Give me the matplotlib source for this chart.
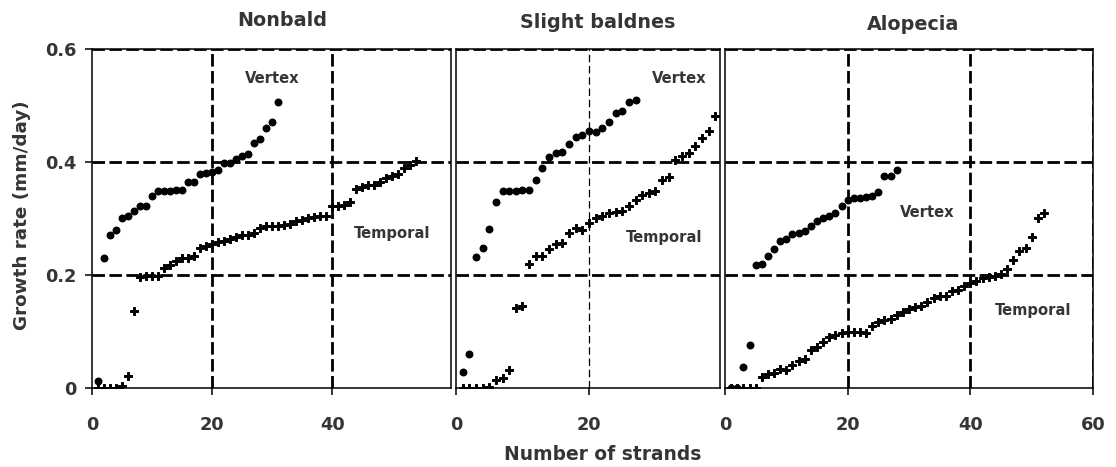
import matplotlib.pyplot as plt

# strand index (sorted) and growth rate in mm/day
nonbald_vertex = [0.013, 0.230, 0.271, 0.280, 0.301, 0.305, 0.314, 0.323, 0.323, 0.340,
                  0.348, 0.348, 0.348, 0.351, 0.351, 0.364, 0.364, 0.379, 0.380, 0.382,
                  0.386, 0.398, 0.398, 0.405, 0.410, 0.415, 0.434, 0.440, 0.460, 0.470,
                  0.506]
nonbald_temporal = [0.0, 0.0, 0.0, 0.0, 0.003, 0.022, 0.136, 0.196, 0.198, 0.198,
                    0.198, 0.212, 0.218, 0.224, 0.230, 0.230, 0.233, 0.248, 0.251, 0.254,
                    0.258, 0.261, 0.264, 0.267, 0.270, 0.270, 0.274, 0.283, 0.287, 0.287,
                    0.287, 0.289, 0.291, 0.295, 0.298, 0.301, 0.303, 0.304, 0.304, 0.322,
                    0.322, 0.324, 0.330, 0.352, 0.355, 0.360, 0.360, 0.364, 0.372, 0.375,
                    0.379, 0.389, 0.394, 0.402]
slight_vertex = [0.028, 0.061, 0.232, 0.248, 0.281, 0.330, 0.348, 0.348, 0.348, 0.350,
                 0.350, 0.368, 0.390, 0.409, 0.416, 0.418, 0.432, 0.444, 0.447, 0.454,
                 0.453, 0.460, 0.471, 0.486, 0.490, 0.507, 0.510]
slight_temporal = [0.0, 0.0, 0.0, 0.0, 0.002, 0.014, 0.017, 0.031, 0.142, 0.146,
                   0.220, 0.234, 0.234, 0.246, 0.255, 0.257, 0.274, 0.283, 0.280, 0.292,
                   0.301, 0.305, 0.310, 0.311, 0.313, 0.323, 0.333, 0.342, 0.345, 0.349,
                   0.369, 0.373, 0.404, 0.411, 0.416, 0.428, 0.442, 0.455, 0.481]
alopecia_vertex = [0.0, 0.0, 0.038, 0.076, 0.218, 0.220, 0.234, 0.246, 0.261, 0.264,
                   0.273, 0.274, 0.277, 0.286, 0.296, 0.301, 0.304, 0.309, 0.323, 0.333,
                   0.336, 0.337, 0.338, 0.339, 0.347, 0.376, 0.376, 0.385]
alopecia_temporal = [0.0, 0.0, 0.0, 0.0, 0.0, 0.019, 0.024, 0.027, 0.034, 0.032,
                     0.041, 0.047, 0.051, 0.068, 0.073, 0.081, 0.091, 0.094, 0.097, 0.099,
                     0.099, 0.099, 0.097, 0.109, 0.116, 0.121, 0.123, 0.130, 0.135, 0.139,
                     0.143, 0.146, 0.153, 0.159, 0.163, 0.162, 0.171, 0.174, 0.180, 0.186,
                     0.189, 0.195, 0.196, 0.199, 0.202, 0.211, 0.226, 0.242, 0.248, 0.268,
                     0.300, 0.309]

titles = ['Nonbald', 'Slight baldnes', 'Alopecia']
y_ticks = [0, 0.2, 0.4, 0.6]
y_ticklabels = ['0', '0.2', '0.4', '0.6']

TXT = '#353535'
W, H = 1116, 467
plt.rcParams['font.family'] = 'DejaVu Sans'
plt.rcParams['font.weight'] = 'bold'

fig = plt.figure(figsize=(W / 100, H / 100), dpi=100)


def px_axes(left, right, bottom=388, top=49):
    return fig.add_axes([left / W, (H - bottom) / H, (right - left) / W, (bottom - top) / H])


ax1 = px_axes(92, 451)
ax2 = px_axes(456, 720)
ax3 = px_axes(725, 1093)
panels = [
    (ax1, nonbald_vertex, nonbald_temporal, 59.8, [0, 20, 40]),
    (ax2, slight_vertex, slight_temporal, 39.7, [0, 20]),
    (ax3, alopecia_vertex, alopecia_temporal, 60, [0, 20, 40, 60]),
]

thick = dict(color='black', lw=2.0, dashes=(4.5, 1.6), zorder=1)
for i, (ax, vert, temp, xmax, xt) in enumerate(panels):
    ax.set_xlim(0, xmax)
    ax.set_ylim(0, 0.6)
    for s in ax.spines.values():
        s.set_linewidth(1.1)
    for y in (0.2, 0.4, 0.6):
        ax.axhline(y, **thick)
    if i == 1:
        ax.axvline(20, color='black', lw=0.9, dashes=(6, 3), zorder=1)
    else:
        for x in xt[1:]:
            ax.axvline(x, **thick)

    ax.plot(range(1, len(temp) + 1), temp, ls='none', marker='P', ms=5.5, color='black',
            mec='black', mew=0.7, zorder=3)
    ax.plot(range(1, len(vert) + 1), vert, ls='none', marker='o', ms=4.7, color='black', zorder=4)

    ax.set_xticks(xt)
    ax.tick_params(axis='x', direction='out', length=5, width=1.1, pad=15,
                   labelsize=12.8, labelcolor=TXT)
    if i == 0:
        ax.set_yticks(y_ticks)
        ax.set_yticklabels(y_ticklabels)
        ax.tick_params(axis='y', direction='out', length=5, width=1.1, pad=6,
                       labelsize=12.8, labelcolor=TXT)
    else:
        ax.set_yticks([])

# curve labels inside panels
lab = dict(fontsize=10.6, color=TXT, ha='center', va='center', fontweight='bold')
ax1.text(30, 0.547, 'Vertex', **lab)
ax1.text(50, 0.274, 'Temporal', **lab)
ax2.text(33.5, 0.547, 'Vertex', **lab)
ax2.text(31.3, 0.267, 'Temporal', **lab)
ax3.text(33, 0.311, 'Vertex', **lab)
ax3.text(50.2, 0.138, 'Temporal', **lab)

# panel titles and axis titles, placed in pixels
for t, (xp, yp) in zip(titles, [(282, 21), (598, 23), (913, 24)]):
    fig.text(xp / W, 1 - yp / H, t, fontsize=13.8, color=TXT, ha='center', va='center',
             fontweight='bold')
fig.text(603 / W, 1 - 454 / H, 'Number of strands', fontsize=13.4, color=TXT,
         ha='center', va='center', fontweight='bold')
fig.text(22 / W, 1 - 215 / H, 'Growth rate (mm/day)', fontsize=13.2, color=TXT,
         ha='center', va='center', rotation=90, fontweight='bold')

fig.savefig('out.png', dpi=100)
